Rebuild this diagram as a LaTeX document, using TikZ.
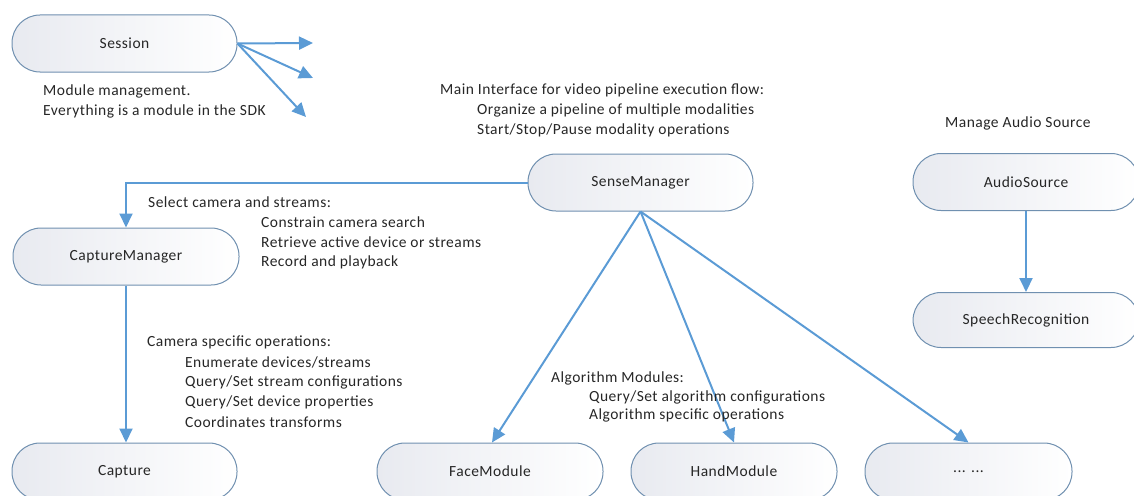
\documentclass[tikz,border=0pt]{standalone}
\usepackage{fontspec}
\setmainfont{Carlito}
\newfontfamily\notefont[LetterSpace=3]{Carlito}
\usetikzlibrary{arrows.meta}
\definecolor{edgeblue}{HTML}{5B9BD5}
\definecolor{rim}{HTML}{7090B0}
\definecolor{shadegray}{HTML}{E8EAF0}
\tikzset{
  module/.style={draw=rim, line width=1pt, rounded corners=28pt,
    minimum width=225pt, minimum height=57pt, inner sep=0pt,
    left color=shadegray, right color=white,
    font=\notefont\fontsize{15.5}{17}\selectfont, text=black!85},
  flow/.style={draw=edgeblue, line width=2pt,
    -{Triangle[length=14pt,width=13pt]}},
  note/.style={anchor=west, inner sep=0pt,
    font=\notefont\fontsize{15.5}{17}\selectfont, text=black!85},
}
\begin{document}
\begin{tikzpicture}[x=1pt,y=-1pt]
\useasboundingbox (0,0) rectangle (1134,495);
\clip (0,0) rectangle (1134,495);

% modules
\node[module] (session) at (124.5,43.5) {Session};
\node[module] (sense)   at (640.5,182.5) {SenseManager};
\node[module, minimum width=226pt] (capmgr) at (126,256.5) {CaptureManager};
\node[module] (capture) at (124.5,471.5) {Capture};
\node[module, minimum width=226pt] (face) at (490,471.5) {FaceModule};
\node[module, minimum width=206pt] (hand) at (734,471.5) {HandModule};
\node[module, minimum width=207pt] (more) at (968.5,471.5) {... ...};
\node[module, minimum width=226pt] (audio) at (1026,182) {AudioSource};
\node[module, minimum width=226pt, minimum height=55pt] (speech) at (1026,320) {SpeechRecognition};

% free ends of the session fan
\coordinate (s1) at (313,43);
\coordinate (s2) at (313,78);
\coordinate (s3) at (306,117);

% connectors
\draw[flow] (session.east) -- (s1);
\draw[flow] (session.east) -- (s2);
\draw[flow] (session.east) -- (s3);
\draw[flow] (sense.west) -| (capmgr.north);
\draw[flow] (capmgr.south) -- (capmgr.south |- capture.north);
\draw[flow] (sense.south) -- ([xshift=2pt]face.north);
\draw[flow] (sense.south) -- (hand.north);
\draw[flow] (sense.south) -- (more.north);
\draw[flow] (audio.south) -- (speech.north);

% annotations
\node[note] (n1) at (43,91) {Module management.};
\node[note] (n2) at (43,111) {Everything is a module in the SDK};

\node[note] (m1) at (440,90) {Main Interface for video pipeline execution flow:};
\node[note] (m2) at (477,110) {Organize a pipeline of multiple modalities};
\node[note] (m3) at (477,130) {Start/Stop/Pause modality operations};

\node[note] (a1) at (945,123) {Manage Audio Source};

\node[note] (c1) at (148,202) {Select camera and streams:};
\node[note] (c2) at (261,222) {Constrain camera search};
\node[note] (c3) at (261,242) {Retrieve active device or streams};
\node[note] (c4) at (261,262) {Record and playback};

\node[note] (k1) at (147,342) {Camera specific operations:};
\node[note] (k2) at (185,362) {Enumerate devices/streams};
\node[note] (k3) at (185,382) {Query/Set stream configurations};
\node[note] (k4) at (185,402) {Query/Set device properties};
\node[note] (k5) at (185,422) {Coordinates transforms};

\node[note] (g1) at (551,378) {Algorithm Modules:};
\node[note] (g2) at (589,397) {Query/Set algorithm configurations};
\node[note] (g3) at (589,415) {Algorithm specific operations};
\end{tikzpicture}
\end{document}
